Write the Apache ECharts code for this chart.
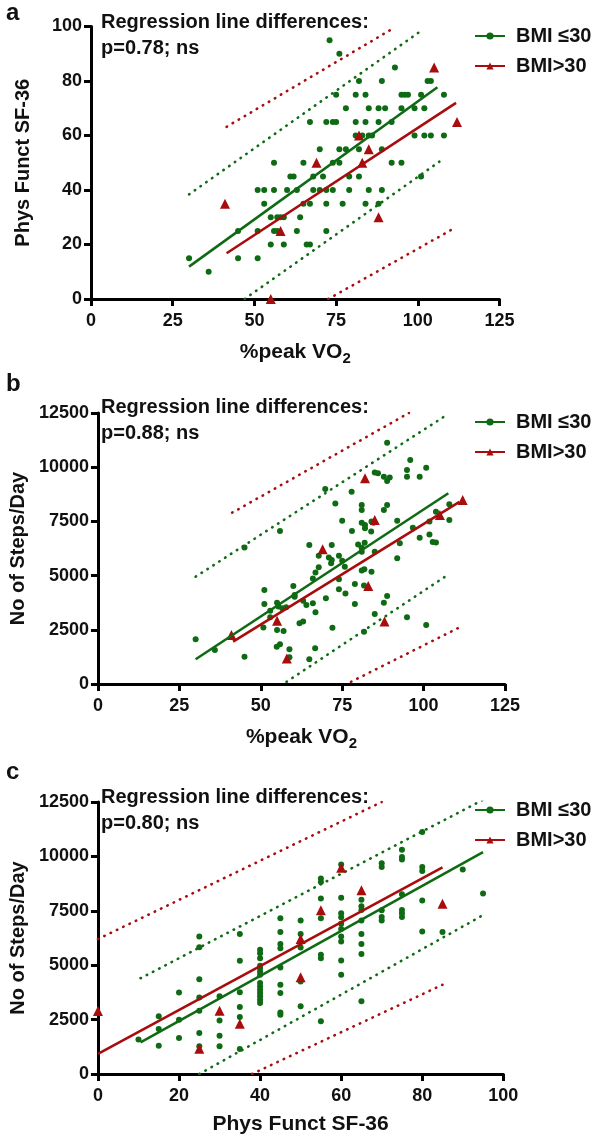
<!DOCTYPE html>
<html><head><meta charset="utf-8">
<script src="https://cdn.jsdelivr.net/npm/echarts/dist/echarts.min.js"></script>
<style>html,body{margin:0;padding:0;background:#fff}#c{width:598px;height:1142px}</style>
</head><body><div id="c"></div>
<script>
// ---------- Panel a: %peak VO2 vs Phys Funct SF-36 ----------
const aGreen = [
 [73,95],[76,90],[93,85],
 [82,80],[89,80],[103,80],[104,80],
 [75,75],[81,75],[84,75],[95,75],[96,75],[97,75],[101,75],[108,75],
 [78,70],[85,70],[88,70],[90,70],[95,70],[99,70],[102,70],
 [67,65],[72,65],[74,65],[75,65],[81,65],[84,65],[88,65],[92,65],
 [81,60],[83,60],[85,60],[86,60],[99,60],[102,60],[104,60],[108,60],
 [70,55],[76,55],[78,55],[82,55],[89,55],
 [56,50],[65,50],[74,50],[76,50],[92,50],[95,50],
 [61,45],[62,45],[68,45],[71,45],[79,45],[82,45],[101,45],
 [51,40],[53,40],[56,40],[60,40],[63,40],[68,40],[70,40],[72,40],[74,40],[79,40],[85,40],[89,40],
 [53,35],[65,35],[67,35],[72,35],[77,35],[84,35],[88,35],
 [55,30],[57,30],[58,30],[59,30],[64,30],
 [45,25],[51,25],[56,25],[57,25],[63,25],[72,25],
 [55,20],[59,20],[66,20],[67,20],
 [30,15],[45,15],[51,15],
 [36,10]
];
const aRed = [[41,35],[55,0],[58,25],[69,50],[83,50],[85,55],[82,60],[88,30],[105,85],[112,65]];
const aRegGreen = [[30,11.9],[106,77.7]];
const aRegRed = [[41.5,16.8],[111.7,72]];
const aBandGreenUp = [[30,38.4],[101.7,99]];
const aBandGreenLo = [[47,0],[106.6,50.4]];
const aBandRedUp = [[41.5,63.2],[93,99.7]];
const aBandRedLo = [[72.6,0],[111.8,26.4]];

// ---------- Panel b: %peak VO2 vs Steps/Day ----------
const bGreen = [
 [88.8,11130],[95.9,10330],[100.8,9980],[94.9,9870],[94.9,9560],[85,9750],[86,9720],[87.8,9560],[88.8,9360],[89.6,9520],[98.8,9560],
 [69.8,8990],[77.9,8870],[72.9,8330],[81,8260],[81,8030],[88.8,8260],[87.8,8030],[75,7530],[81,7440],[82,7330],[84,7490],[84.6,7440],
 [91.9,7530],[103.8,7950],[107.9,8290],[107.9,7570],[101.8,7490],[96.7,7210],[78,7060],[82,7180],[83.9,7030],[55.9,7060],[98.8,6750],
 [101.8,6900],[102.8,6550],[103.8,6530],[92.7,6490],[64.9,6410],[71.8,6410],[79.9,6440],[81.9,6520],[81,6290],[81,6100],[85,6100],
 [45,6300],[67.8,5920],[70.9,5830],[71.8,5720],[71.6,5570],[74,5920],[75,5690],[75.8,5410],[91.9,5800],[67.8,5380],[66.8,5140],
 [81,5230],[81.8,5290],[84,5180],[66,4870],[74,4830],[78.9,4610],[81.7,4540],[60,4520],[51.1,4340],[74,4370],[76,4180],[60.4,4110],
 [60.4,4030],[63,3840],[70,3950],[78.9,3690],[88.8,4060],[87.8,3750],[51.1,3690],[55,3750],[55.4,3570],[56.6,3490],[57.8,3540],
 [64,3640],[66,3720],[66.8,3310],[52.9,3380],[52.9,3080],[85,3230],[94.9,3080],[100.8,2720],[61.9,2800],[63,2880],[50.8,2610],
 [55,2490],[57,2450],[72,2600],[81.7,2410],[30,2060],[35.9,1570],[45,1260],[54.9,1720],[55.9,1830],[58.8,1600],[66.7,1650],
 [58.8,1230],[64.9,1140]
];
const bRed = [[41,2260],[55,2920],[58,1180],[69,6210],[82,9490],[83,4520],[85,7570],[88,2880],[105,7800],[112,8490]];
const bRegGreen = [[30,1140],[107.6,8800]];
const bRegRed = [[41.5,1950],[111,8400]];
const bBandGreenUp = [[30,4950],[107,12400]];
const bBandGreenLo = [[57.9,100],[106.6,4950]];
const bBandRedUp = [[41.2,7900],[95.5,12500]];
const bBandRedLo = [[77.7,100],[111,2610]];

// ---------- Panel c: Phys Funct SF-36 vs Steps/Day ----------
const cGreen = [
 [10,1580],
 [15,2650],[15,2070],[15,1300],
 [20,3750],[20,2490],[20,1650],
 [25,6320],[25,5830],[25,4360],[25,3520],[25,2910],[25,1880],[25,1270],
 [30,3570],[30,2460],[30,1760],[30,1270],
 [35,6430],[35,5200],[35,3760],[35,3080],[35,2620],[35,1150],
 [40,5710],[40,5550],[40,5320],[40,4970],[40,4870],[40,4710],[40,4560],[40,4180],[40,4020],[40,3870],[40,3720],[40,3570],[40,3410],[40,3260],
 [45,7160],[45,6520],[45,5970],[45,5780],[45,4900],[45,4100],[45,3720],[45,2830],[45,2720],
 [50,7050],[50,6430],[50,5810],[50,4250],[50,3110],
 [55,8980],[55,8820],[55,8060],[55,7160],[55,5480],[55,5320],[55,2420],
 [60,9630],[60,8100],[60,7390],[60,7200],[60,6900],[60,6660],[60,6320],[60,6090],[60,5220],[60,4560],
 [65,8010],[65,7710],[65,7540],[65,7050],[65,6430],[65,5970],[65,5520],[65,3340],
 [70,9690],[70,9510],[70,7520],[70,7220],[70,7050],
 [75,10310],[75,9970],[75,9860],[75,8260],[75,7540],[75,7390],[75,7210],
 [80,11120],[80,9510],[80,9330],[80,7970],[80,6550],
 [85,6520],[90,9400],[95,8300]
];
const cRed = [[0,2900],[25,1160],[30,2910],[35,2310],[50,6200],[50,4450],[55,7520],[60,9480],[65,8440],[85,7820]];
const cRegGreen = [[10.5,1450],[95,10200]];
const cRegRed = [[0,920],[85,9500]];
const cBandGreenUp = [[10.5,4400],[95,12600]];
const cBandGreenLo = [[25,0],[95,7300]];
const cBandRedUp = [[0,6200],[70,12500]];
const cBandRedLo = [[38,0],[85,4100]];

const xTitles = ['%peak VO{s|2}', '%peak VO{s|2}', 'Phys Funct SF-36'];
const yTitles = ['Phys Funct SF-36', 'No of Steps/Day', 'No of Steps/Day'];
const panelLetters = ['a', 'b', 'c'];
const pTexts = ['p=0.78; ns', 'p=0.88; ns', 'p=0.80; ns'];
const legendNames = ['BMI \u226430', 'BMI>30'];

const G = '#0f6a14', R = '#a80c0c';
const F = 'Liberation Sans, Arial, sans-serif';

const grids = [
  {left:91, top:26.5, width:408.5, height:272.5},
  {left:95, top:413, width:410, height:271},
  {left:93.3, top:802, width:410, height:272}
];
const xScales = [[0,125,25],[0,125,25],[0,100,20]];
const yScales = [[0,100,20],[0,12500,2500],[0,12500,2500]];

const panels = [
  {g:aGreen, r:aRed, rg:aRegGreen, rr:aRegRed, gu:aBandGreenUp, gl:aBandGreenLo, ru:aBandRedUp, rl:aBandRedLo},
  {g:bGreen, r:bRed, rg:bRegGreen, rr:bRegRed, gu:bBandGreenUp, gl:bBandGreenLo, ru:bBandRedUp, rl:bBandRedLo},
  {g:cGreen, r:cRed, rg:cRegGreen, rr:cRegRed, gu:cBandGreenUp, gl:cBandGreenLo, ru:cBandRedUp, rl:cBandRedLo}
];

const axisCommon = {
  axisLine:{show:true, onZero:false, lineStyle:{color:'#000', width:3}},
  axisTick:{show:true, length:7, lineStyle:{color:'#000', width:3}},
  splitLine:{show:false}
};
const labelStyle = {fontFamily:F, fontWeight:'bold', fontSize:18, color:'#111', formatter:(v)=>String(v)};
const xNameStyle = {fontFamily:F, fontWeight:'bold', fontSize:21, color:'#111',
  rich:{s:{fontFamily:F, fontWeight:'bold', fontSize:15, color:'#111', padding:[12,0,0,0]}}};
const yNameStyle = {fontFamily:F, fontWeight:'bold', fontSize:20, color:'#111'};

const xAxis = [], yAxis = [], series = [], legend = [], graphic = [];
const legendTops = [21, 407, 795];
const textTops = [12, 397, 787];
const letterTops = [1, 372, 760];

for (let i = 0; i < 3; i++) {
  xAxis.push(Object.assign({gridIndex:i, type:'value', min:xScales[i][0], max:xScales[i][1], interval:xScales[i][2],
    name:xTitles[i], nameLocation:'middle', nameGap:40, nameTextStyle:xNameStyle,
    axisLabel:Object.assign({margin:13}, labelStyle)}, axisCommon));
  yAxis.push(Object.assign({gridIndex:i, type:'value', min:yScales[i][0], max:yScales[i][1], interval:yScales[i][2],
    name:yTitles[i], nameLocation:'middle', nameGap:58, nameTextStyle:yNameStyle,
    axisLabel:Object.assign({margin:9}, labelStyle)}, axisCommon));
  const p = panels[i];
  const base = {xAxisIndex:i, yAxisIndex:i, silent:true, animation:false};
  series.push(Object.assign({type:'line', name:legendNames[0], data:p.rg, symbol:'circle', showSymbol:false,
    lineStyle:{color:G, width:2.6}, itemStyle:{color:G}, z:6}, base));
  series.push(Object.assign({type:'line', name:legendNames[1], data:p.rr, symbol:'triangle', showSymbol:false,
    lineStyle:{color:R, width:2.6}, itemStyle:{color:R}, z:6}, base));
  const dot = (c) => ({color:c, width:2.6, type:[0.5,6.5], cap:'round'});
  series.push(Object.assign({type:'line', name:'band g up', data:p.gu, symbol:'none', lineStyle:dot(G), z:3}, base));
  series.push(Object.assign({type:'line', name:'band g lo', data:p.gl, symbol:'none', lineStyle:dot(G), z:3}, base));
  series.push(Object.assign({type:'line', name:'band r up', data:p.ru, symbol:'none', lineStyle:dot(R), z:3}, base));
  series.push(Object.assign({type:'line', name:'band r lo', data:p.rl, symbol:'none', lineStyle:dot(R), z:3}, base));
  series.push(Object.assign({type:'scatter', name:'pts g', data:p.g, symbol:'circle', symbolSize:6,
    itemStyle:{color:G, opacity:1}, z:4, clip:false}, base));
  series.push(Object.assign({type:'scatter', name:'pts r', data:p.r, symbol:'triangle', symbolSize:10,
    itemStyle:{color:R, opacity:1}, z:5, clip:false}, base));

  legend.push({left:469, top:legendTops[i], orient:'vertical', itemGap:10, itemWidth:30, itemHeight:9,
    data:legendNames, selectedMode:false,
    textStyle:{fontFamily:F, fontWeight:'bold', fontSize:20, color:'#111', padding:[0,0,0,6]}});

  graphic.push({type:'text', left:6, top:letterTops[i], style:{text:panelLetters[i], font:'bold 24px ' + F, fill:'#111'}});
  graphic.push({type:'text', left:101, top:textTops[i], style:{text:'Regression line differences:', font:'bold 20px ' + F, fill:'#111'}});
  graphic.push({type:'text', left:101, top:textTops[i] + 26, style:{text:pTexts[i], font:'bold 20px ' + F, fill:'#111'}});
}

const chart = echarts.init(document.getElementById('c'), null, {renderer:'canvas'});
chart.setOption({animation:false, backgroundColor:'#fff', grid:grids, xAxis, yAxis, series, legend, graphic});
</script></body></html>
